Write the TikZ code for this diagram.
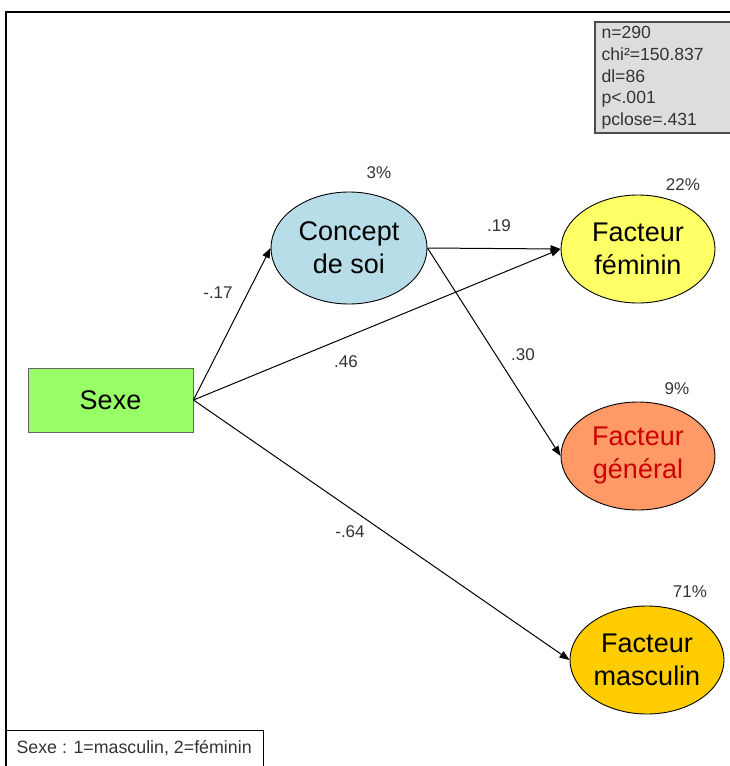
\documentclass[tikz,border=0pt]{standalone}
\usepackage{fontspec}
\setmainfont{Liberation Sans}
\usetikzlibrary{arrows.meta,shapes.geometric}

\definecolor{soiblue}{HTML}{B7DEE8}
\definecolor{sexegreen}{HTML}{99FF66}
\definecolor{femyellow}{HTML}{FFFF66}
\definecolor{genorange}{HTML}{FF9966}
\definecolor{genred}{HTML}{CC0000}
\definecolor{mascgold}{HTML}{FFCC00}
\definecolor{statgray}{HTML}{DDDDDD}

\tikzset{
  facteur/.style={ellipse,draw=black,line width=0.9pt,
    minimum width=154pt,minimum height=108pt,inner sep=0pt,
    align=center,font=\fontsize{27}{33}\selectfont},
  coef/.style={font=\fontsize{17}{20}\selectfont,text=black!80},
  lien/.style={-{Triangle[length=10pt,width=7.5pt]},line width=1pt}
}

\begin{document}
\begin{tikzpicture}[x=1pt,y=-1pt]

\useasboundingbox
(0,0)
rectangle
(729,766);

% cadre
\draw[line width=1.3pt]
(6,770)
--
(6,12)
--
(733,12);

% statistiques
\filldraw[fill=statgray,draw=black!70,line width=1.6pt]
(733,22)
--
(595,22)
--
(595,133)
--
(733,133);

\node[font=\fontsize{17.6}{21.6}\selectfont,text=black!80,
  align=left,anchor=north west]
(stats)
at (598,23)
{n=290\\chi²=150.837\\dl=86\\p<.001\\pclose=.431};

% variables
\node[draw=black!60,fill=sexegreen,line width=1pt,
  minimum width=165pt,minimum height=64pt,
  font=\fontsize{27}{30}\selectfont]
(sexe)
at (110.5,400)
{Sexe};

\node[facteur,fill=soiblue,minimum width=156pt,minimum height=112pt]
(soi)
at (349,248)
{Concept\\de soi};

\node[facteur,fill=femyellow]
(fem)
at (638,249)
{Facteur\\féminin};

\node[facteur,fill=genorange,text=genred]
(gen)
at (638,456)
{Facteur\\général};

\node[facteur,fill=mascgold]
(masc)
at (647,660)
{Facteur\\masculin};

% pourcentages
\node[coef]
(psoi)
at (379,173)
{3\%};

\node[coef]
(pfem)
at (683,185)
{22\%};

\node[coef]
(pgen)
at (677,389)
{9\%};

\node[coef]
(pmasc)
at (690,592)
{71\%};

% liens
\draw[lien]
(sexe.east)
--
(soi.west);

\draw[lien]
(sexe.east)
--
(fem.west);

\draw[lien]
(sexe.east)
--
(masc.west);

\draw[lien]
(soi.east)
--
(fem.west);

\draw[lien]
(soi.east)
--
(gen.west);

\node[coef]
(c17)
at (218,293)
{-.17};

\node[coef]
(c19)
at (499,226)
{.19};

\node[coef]
(c30)
at (523,355)
{.30};

\node[coef]
(c46)
at (346,362)
{.46};

\node[coef]
(c64)
at (350,532)
{-.64};

% legende
\draw[line width=1pt]
(6,730)
--
(263,730)
--
(263,770);

\node[font=\fontsize{17.8}{20}\selectfont,text=black!80,anchor=west]
(legende)
at (13,748)
{Sexe : 1=masculin, 2=féminin};

\end{tikzpicture}
\end{document}
